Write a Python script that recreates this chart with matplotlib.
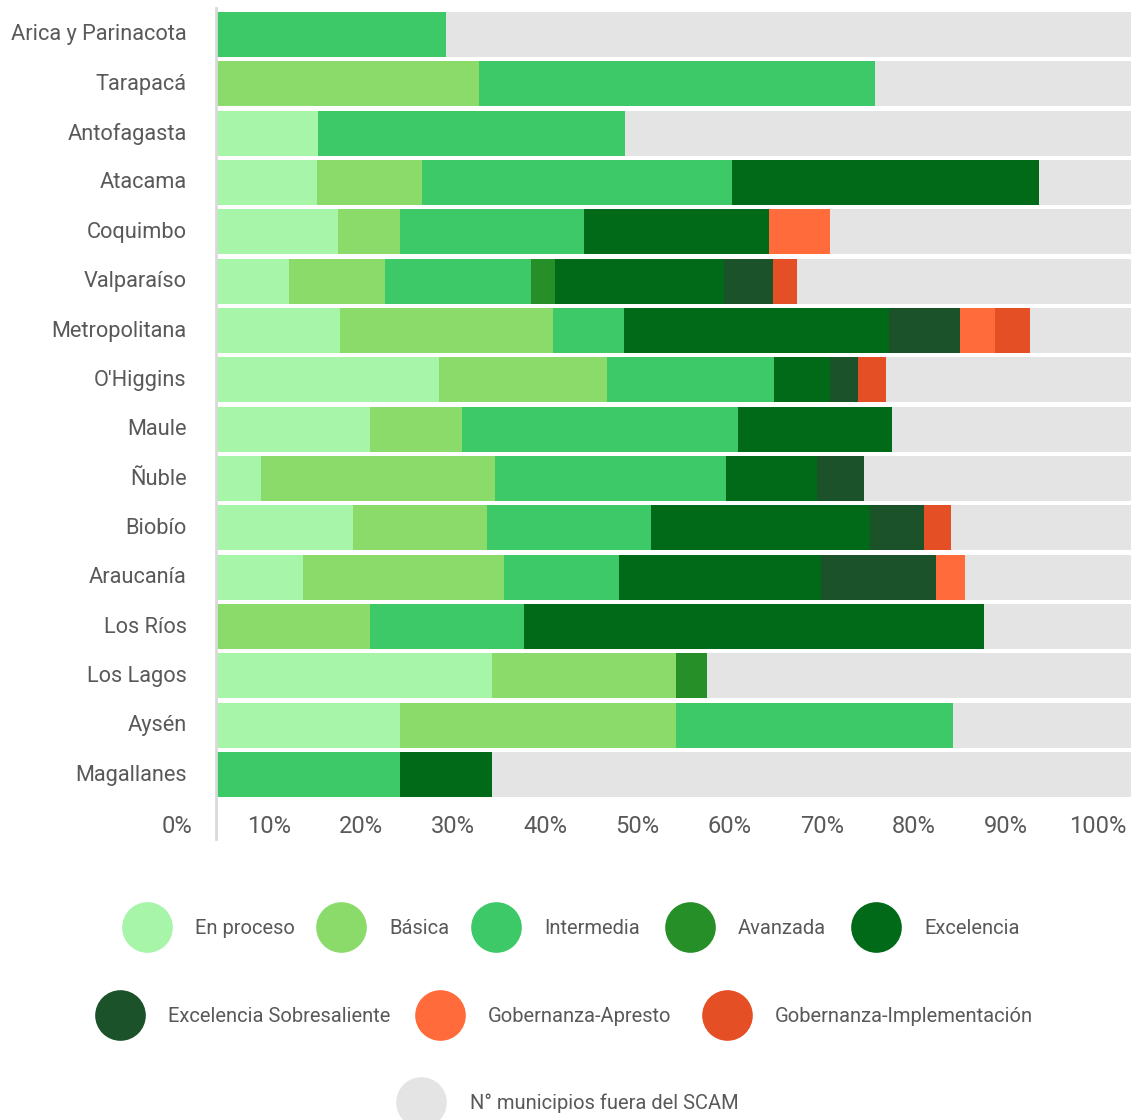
import matplotlib
matplotlib.use("Agg")
import matplotlib.pyplot as plt
import matplotlib.transforms as mtransforms

plt.rcParams["font.family"] = ["Roboto", "DejaVu Sans"]

# Regiones (de norte a sur)
regiones = ["Arica y Parinacota", "Tarapacá", "Antofagasta", "Atacama", "Coquimbo",
            "Valparaíso", "Metropolitana", "O'Higgins", "Maule", "Ñuble", "Biobío",
            "Araucanía", "Los Ríos", "Los Lagos", "Aysén", "Magallanes"]

# Porcentaje de municipios por nivel de certificación
en_proceso = [0, 0, 11.1, 11.0, 13.3, 7.9, 13.5, 24.2, 16.7, 4.9, 14.9, 9.4, 0, 30.0, 20.0, 0]
basica = [0, 28.6, 0, 11.4, 6.7, 10.5, 23.1, 18.2, 10.0, 25.4, 14.5, 21.9, 16.7, 20.0, 30.0, 0]
intermedia = [25.0, 42.9, 33.3, 33.6, 20.0, 15.8, 7.7, 18.2, 30.0, 25.1, 17.8, 12.5, 16.7, 0, 30.0, 20.0]
avanzada = [0, 0, 0, 0, 0, 2.6, 0, 0, 0, 0, 0, 0, 0, 3.3, 0, 0]
excelencia = [0, 0, 0, 33.4, 20.0, 18.4, 28.8, 6.1, 16.7, 9.9, 23.8, 21.9, 50.0, 0, 0, 10.0]
exc_sobresaliente = [0, 0, 0, 0, 0, 5.3, 7.7, 3.0, 0, 5.1, 5.9, 12.5, 0, 0, 0, 0]
gob_apresto = [0, 0, 0, 0, 6.7, 0, 3.8, 0, 0, 0, 0, 3.1, 0, 0, 0, 0]
gob_implementacion = [0, 0, 0, 0, 0, 2.6, 3.8, 3.0, 0, 0, 2.9, 0, 0, 0, 0, 0]

series = [
    ("En proceso", en_proceso, "#a6f5a9"),
    ("Básica", basica, "#8bdb6b"),
    ("Intermedia", intermedia, "#3dc967"),
    ("Avanzada", avanzada, "#268f27"),
    ("Excelencia", excelencia, "#006a18"),
    ("Excelencia Sobresaliente", exc_sobresaliente, "#1c522a"),
    ("Gobernanza-Apresto", gob_apresto, "#ff6b3b"),
    ("Gobernanza-Implementación", gob_implementacion, "#e54f26"),
]
fuera_label = "N° municipios fuera del SCAM"
fuera_color = "#e4e4e4"

ticks = list(range(0, 101, 10))
text_color = "#595959"

W, H = 1131, 1120
fig = plt.figure(figsize=(W / 100, H / 100), dpi=100)
# el 100% queda un poco más allá del borde derecho de la imagen
ax = fig.add_axes([216 / W, 1 - 839 / H, (1137 - 216) / W, (839 - 8) / H])

y = list(range(len(regiones)))
left = [0.0] * len(regiones)
for name, vals, color in series:
    ax.barh(y, vals, left=left, height=0.912, color=color, linewidth=0)
    left = [l + v for l, v in zip(left, vals)]
resto = [100 - l for l in left]
ax.barh(y, resto, left=left, height=0.912, color=fuera_color, linewidth=0)

ax.set_xlim(0, 100)
ax.set_ylim(len(regiones) - 1 + 1.307, -0.537)
ax.set_yticks(y)
ax.set_yticklabels(regiones, fontsize=15.7, color=text_color)
ax.tick_params(axis="y", length=0, pad=21)
up = mtransforms.ScaledTranslation(0, 2 / 100, fig.dpi_scale_trans)
for lab in ax.get_yticklabels():
    lab.set_transform(lab.get_transform() + up)
ax.set_xticks([])
for s in ["top", "right", "bottom"]:
    ax.spines[s].set_visible(False)
ax.spines["left"].set_color("#d9d9d9")
ax.spines["left"].set_linewidth(2)

# etiquetas del eje x (desplazadas a la izquierda como en el original)
tr = mtransforms.offset_copy(ax.transData, fig=fig, x=-39, y=0, units="dots")
for t in ticks:
    ax.text(t, len(regiones) - 1 + 1.045, f"{t}%", transform=tr, ha="center", va="center",
            fontsize=17, color=text_color, clip_on=False)

# leyenda
lax = fig.add_axes([0, 0, 1, 1], facecolor="none")
lax.set_xlim(0, W)
lax.set_ylim(H, 0)
lax.axis("off")
legend_pos = [(147, 927), (341, 927), (496, 927), (690, 927), (876, 927),
              (120, 1015), (440, 1015), (727, 1015)]
for (name, vals, color), (cx, cy) in zip(series, legend_pos):
    lax.scatter([cx], [cy], s=1330, color=color, linewidths=0)
    lax.text(cx + 48, cy + 1, name, ha="left", va="center", fontsize=14.5, color=text_color)
lax.scatter([421], [1102], s=1330, color=fuera_color, linewidths=0)
lax.text(470, 1103, fuera_label, ha="left", va="center", fontsize=14.5, color=text_color)

fig.savefig("out.png", dpi=100)
